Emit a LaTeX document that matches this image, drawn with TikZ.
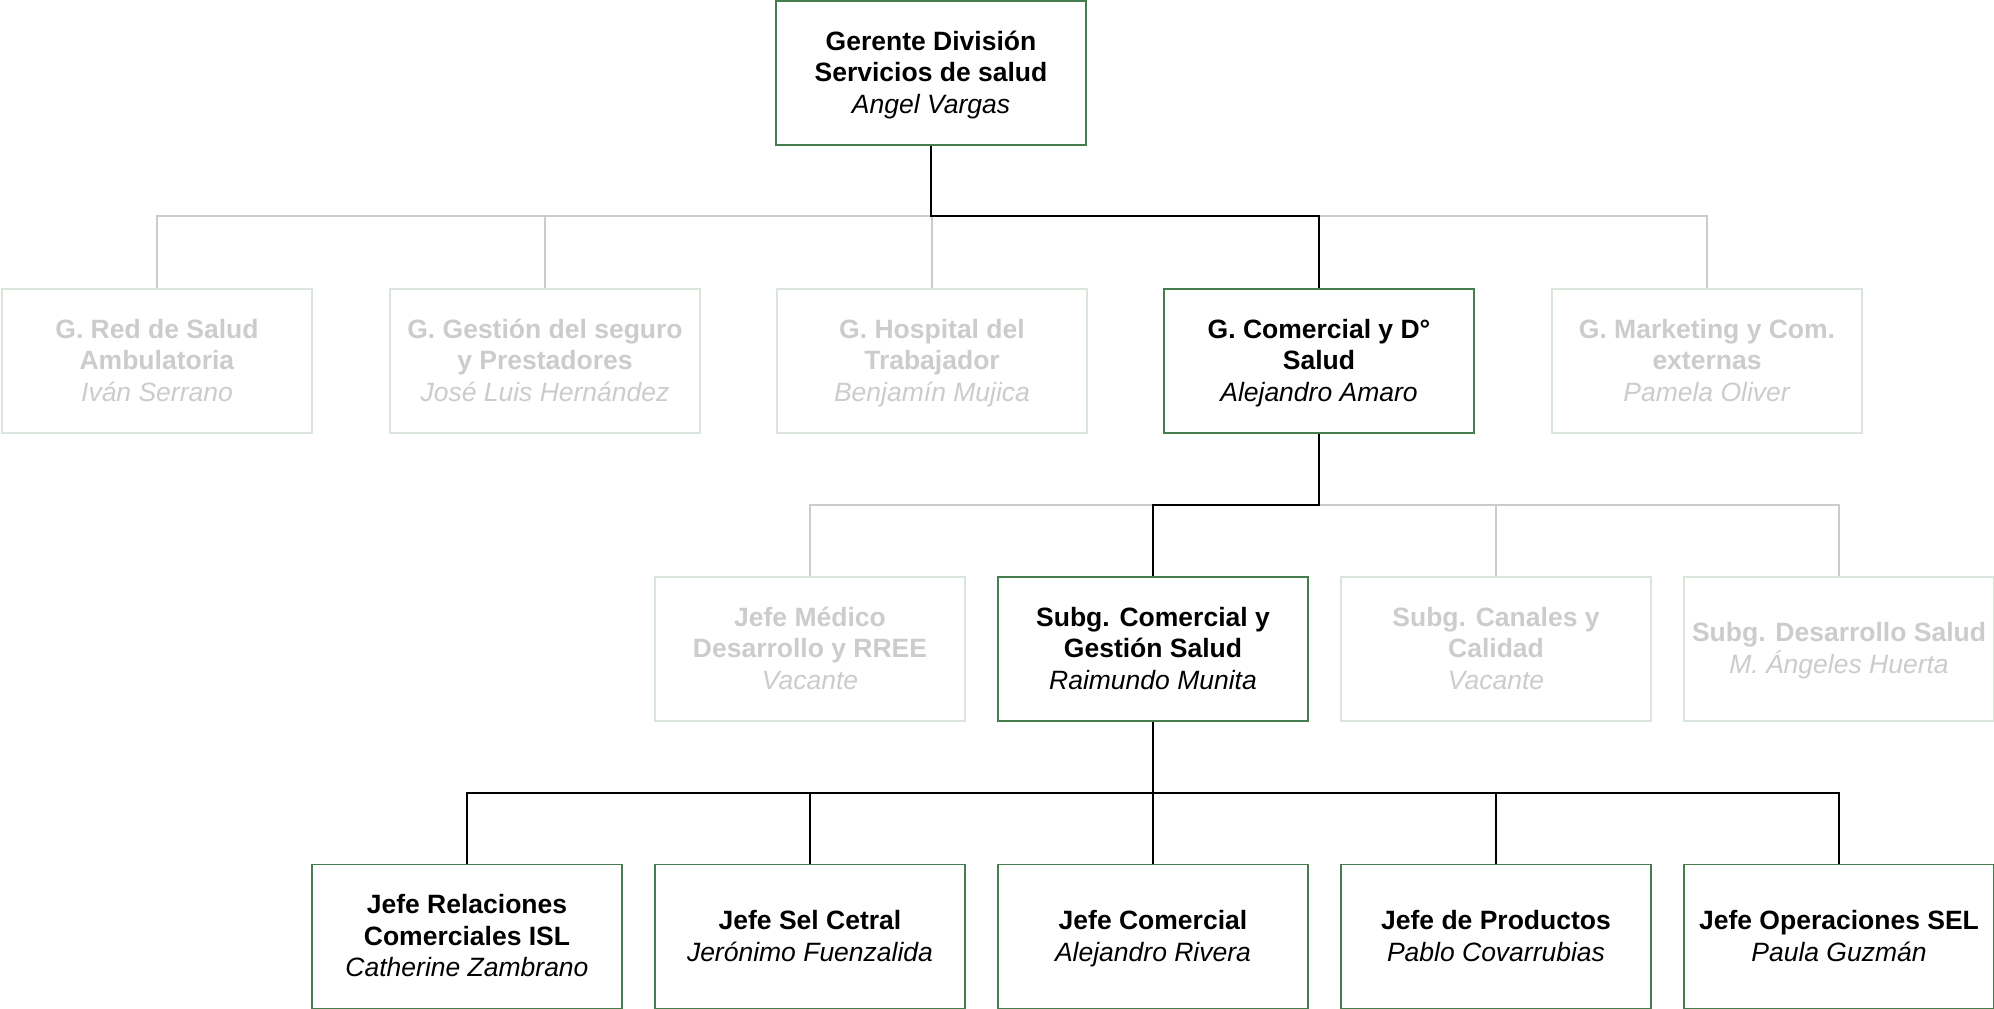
\documentclass[tikz,border=0pt]{standalone}
\usepackage{fontspec}
\setmainfont{Liberation Sans}
\definecolor{boxgreen}{RGB}{70,125,78}
\definecolor{dimborder}{RGB}{218,230,220}
\definecolor{dimtext}{RGB}{204,204,204}
\definecolor{dimline}{RGB}{204,204,204}
\newcommand{\orgstrut}{\rule[-7pt]{0pt}{31.4pt}}
\tikzset{
  orgbox/.style={rectangle, draw=boxgreen, line width=1.8pt, fill=white,
    minimum width=310pt, minimum height=144pt, inner sep=0pt, align=center,
    font=\fontsize{26.5pt}{31.7pt}\selectfont, text=black},
  dimbox/.style={orgbox, draw=dimborder, text=dimtext},
  blackline/.style={draw=black, line width=2pt},
  grayline/.style={draw=dimline, line width=2pt},
}
\begin{document}
\begin{tikzpicture}[x=1pt, y=-1pt]
\useasboundingbox (0,0) rectangle (1994,1009);
\fill[white] (0,0) rectangle (1994,1009);

% coordinates of bus lines
\coordinate (b1) at (931,216);
\coordinate (b2) at (1319,505);
\coordinate (b3) at (1153,793);

% nodes
\node[orgbox] (top) at (931,73) {\orgstrut\textbf{Gerente División}\\\textbf{Servicios de salud}\\\textit{Angel Vargas}\orgstrut};

\node[dimbox] (ra) at (157,361) {\orgstrut\textbf{G. Red de Salud}\\\textbf{Ambulatoria}\\\textit{Iván Serrano}\orgstrut};
\node[dimbox] (rb) at (545,361) {\orgstrut\textbf{G. Gestión del seguro}\\\textbf{y Prestadores}\\\textit{José Luis Hernández}\orgstrut};
\node[dimbox] (rc) at (932,361) {\orgstrut\textbf{G. Hospital del}\\\textbf{Trabajador}\\\textit{Benjamín Mujica}\orgstrut};
\node[orgbox] (rd) at (1319,361) {\orgstrut\textbf{G. Comercial y D°}\\\textbf{Salud}\\\textit{Alejandro Amaro}\orgstrut};
\node[dimbox] (re) at (1707,361) {\orgstrut\textbf{G. Marketing y Com.}\\\textbf{externas}\\\textit{Pamela Oliver}\orgstrut};

\node[dimbox] (sa) at (810,649) {\orgstrut\textbf{Jefe Médico}\\\textbf{Desarrollo y RREE}\\\textit{Vacante}\orgstrut};
\node[orgbox] (sb) at (1153,649) {\orgstrut\textbf{Subg. Comercial y}\\\textbf{Gestión Salud}\\\textit{Raimundo Munita}\orgstrut};
\node[dimbox] (sc) at (1496,649) {\orgstrut\textbf{Subg. Canales y}\\\textbf{Calidad}\\\textit{Vacante}\orgstrut};
\node[dimbox] (sd) at (1839,649) {\orgstrut\textbf{Subg. Desarrollo Salud}\\\textit{M. Ángeles Huerta}\orgstrut};

\node[orgbox] (ja) at (467,936.5) {\orgstrut\textbf{Jefe Relaciones}\\\textbf{Comerciales ISL}\\\textit{Catherine Zambrano}\orgstrut};
\node[orgbox] (jb) at (810,936.5) {\orgstrut\textbf{Jefe Sel Cetral}\\\textit{Jerónimo Fuenzalida}\orgstrut};
\node[orgbox] (jc) at (1153,936.5) {\orgstrut\textbf{Jefe Comercial}\\\textit{Alejandro Rivera}\orgstrut};
\node[orgbox] (jd) at (1496,936.5) {\orgstrut\textbf{Jefe de Productos}\\\textit{Pablo Covarrubias}\orgstrut};
\node[orgbox] (je) at (1839,936.5) {\orgstrut\textbf{Jefe Operaciones SEL}\\\textit{Paula Guzmán}\orgstrut};

% gray connectors
\draw[grayline] (ra.north) -- (ra.north |- b1) -- (re.north |- b1) -- (re.north);
\draw[grayline] (rb.north) -- (rb.north |- b1);
\draw[grayline] (rc.north) -- (rc.north |- b1);
\draw[grayline] (sa.north) -- (sa.north |- b2) -- (sd.north |- b2) -- (sd.north);
\draw[grayline] (sc.north) -- (sc.north |- b2);

% black connectors
\draw[blackline] (top.south) -- (top.south |- b1) -| (rd.north);
\draw[blackline] (rd.south) -- (b2) -| (sb.north);
\draw[blackline] (sb.south) -- (b3);
\draw[blackline] (ja.north) -- (ja.north |- b3) -- (je.north |- b3) -- (je.north);
\draw[blackline] (jb.north) -- (jb.north |- b3);
\draw[blackline] (jc.north) -- (jc.north |- b3);
\draw[blackline] (jd.north) -- (jd.north |- b3);
\end{tikzpicture}
\end{document}
